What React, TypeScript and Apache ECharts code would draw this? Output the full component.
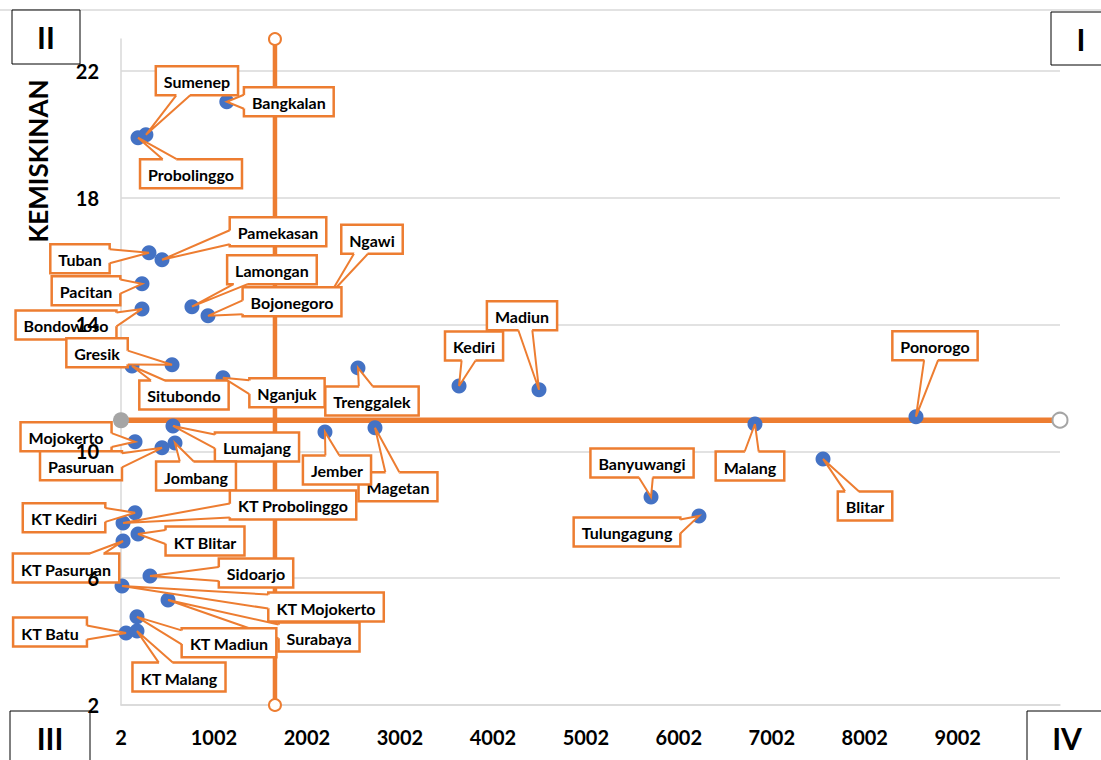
import React, { useEffect, useRef } from "react";
import * as echarts from "echarts";

// ---- data ----
const regionNames = [
  "Sumenep", "Bangkalan", "Probolinggo", "Ngawi", "Lamongan", "Bojonegoro", "Pamekasan",
  "Tuban", "Pacitan", "Bondowoso", "Gresik", "Situbondo", "Trenggalek", "Nganjuk",
  "Kediri", "Madiun", "Ponorogo", "Mojokerto", "Pasuruan", "Lumajang", "Jombang",
  "Magetan", "Jember", "Banyuwangi", "Malang", "Blitar", "Tulungagung",
  "KT Kediri", "KT Probolinggo", "KT Blitar", "KT Pasuruan", "Sidoarjo", "KT Mojokerto",
  "Surabaya", "KT Madiun", "KT Batu", "KT Malang",
];
const xValues = [
  270, 1140, 185, 2250, 765, 938, 443,
  303, 228, 228, 551, 120, 2551, 1099,
  3638, 4498, 8553, 153, 443, 561, 583,
  2734, 2196, 5703, 6821, 7553, 6219,
  153, 24, 185, 24, 314, 13,
  508, 174, 56, 174,
];
const yValues = [
  19.98, 21.02, 19.89, 14.95, 14.56, 14.27, 16.04,
  16.26, 15.28, 14.49, 12.73, 12.69, 12.63, 12.32,
  12.06, 11.94, 11.09, 10.30, 10.11, 10.80, 10.26,
  10.74, 10.61, 8.56, 10.86, 9.76, 7.96,
  8.06, 7.74, 7.39, 7.17, 6.07, 5.75,
  5.31, 4.78, 4.27, 4.33,
];
const xTickLabels = ["2", "1002", "2002", "3002", "4002", "5002", "6002", "7002", "8002", "9002"];
const yTickLabels = ["2", "6", "10", "14", "18", "22"];
const vLineX = 1658;
const vLineY = [2, 23];
const hLineY = 10.98;
const hLineX = [2, 10102];
const quadrantLabels = ["I", "II", "III", "IV"];
const yAxisTitle = "KEMISKINAN";

// ---- layout: label box centre offsets (pixels, from the point) ----
const labelOffsets: Record<string, [number, number]> = {
  "Sumenep": [51, -54], "Bangkalan": [62, 0], "Probolinggo": [53, 36], "Lamongan": [80, -37],
  "Bojonegoro": [84, -14], "Pamekasan": [116, -28], "Ngawi": [42, -55], "Tuban": [-69, 6],
  "Pacitan": [-56, 7], "Bondowoso": [-76, 16], "Gresik": [-75, -12], "Situbondo": [52, 29],
  "Trenggalek": [14, 33], "Nganjuk": [64, 15], "Kediri": [15, -40], "Madiun": [-17, -74],
  "Ponorogo": [19, -71], "Mojokerto": [-69, -5], "Pasuruan": [-81, 18], "Lumajang": [84, 21],
  "Jombang": [21, 33], "Magetan": [23, 59], "Jember": [12, 38], "Banyuwangi": [-9, -34],
  "Malang": [-5, 42], "Blitar": [42, 47], "Tulungagung": [-72, 16], "KT Kediri": [-71, 5],
  "KT Probolinggo": [170, -18], "KT Blitar": [67, 7], "KT Pasuruan": [-57, 27],
  "Sidoarjo": [106, -3], "KT Mojokerto": [204, 21], "Surabaya": [151, 37],
  "KT Madiun": [92, 26], "KT Batu": [-76, -1], "KT Malang": [42, 46],
};

const ORANGE = "#ED7D31";
const BLUE = "#4472C4";
const GRID = "#D9D9D9";
const FONT = "Lato, 'Open Sans', sans-serif";
const LABEL_FONT = `bold 16px ${FONT}`;
const PAD_X = 8;
const BOX_H = 29;
const HALF_BASE = 7;

function quadBox(label: string, x: number, y: number, w: number, h: number) {
  return {
    type: "group",
    z: 5,
    children: [
      { type: "rect", shape: { x, y, width: w, height: h }, style: { fill: "#fff", stroke: "#000", lineWidth: 1 } },
      {
        type: "text",
        x: x + w / 2,
        y: y + 27,
        style: { text: label, font: `bold 30px ${FONT}`, fill: "#000", align: "center", verticalAlign: "middle" },
      },
    ],
  };
}

function clamp(v: number, a: number, b: number) {
  return Math.max(a, Math.min(b, v));
}

export default function App() {
  const ref = useRef<HTMLDivElement>(null);
  useEffect(() => {
    if (!ref.current) return;
    const cv = document.createElement("canvas").getContext("2d")!;
    cv.font = LABEL_FONT;
    const textWidths = regionNames.map((n) => cv.measureText(n).width);

    const chart = echarts.init(ref.current, null, { renderer: "svg" });
    const points = regionNames.map((n, i) => [xValues[i], yValues[i]]);
    const yCommon = { type: "value", min: 2, max: 23, interval: 4 };

    const renderCallout = (params: any, api: any) => {
      const i = params.dataIndex;
      const name = regionNames[i];
      const p = api.coord([api.value(0), api.value(1)]);
      const off = labelOffsets[name] || [0, 0];
      const w = textWidths[i] + 2 * PAD_X;
      const h = BOX_H;
      const cx = p[0] + off[0];
      const cy = p[1] + off[1];
      const x0 = cx - w / 2;
      const y0 = cy - h / 2;
      const vx = p[0] - cx;
      const vy = p[1] - cy;
      let b1: number[];
      let b2: number[];
      let f1: number[];
      let f2: number[];
      if (Math.abs(vx) / (w / 2) > Math.abs(vy) / (h / 2)) {
        const sx = vx > 0 ? x0 + w : x0;
        const inset = vx > 0 ? -3 : 3;
        const by = clamp(cy + (vy / Math.abs(vx)) * (w / 2), y0 + HALF_BASE + 2, y0 + h - HALF_BASE - 2);
        b1 = [sx, by - HALF_BASE];
        b2 = [sx, by + HALF_BASE];
        f1 = [sx + inset, by - HALF_BASE + 1];
        f2 = [sx + inset, by + HALF_BASE - 1];
      } else {
        const sy = vy > 0 ? y0 + h : y0;
        const inset = vy > 0 ? -3 : 3;
        const bx = clamp(cx + (vx / Math.abs(vy)) * (h / 2), x0 + HALF_BASE + 2, x0 + w - HALF_BASE - 2);
        b1 = [bx - HALF_BASE, sy];
        b2 = [bx + HALF_BASE, sy];
        f1 = [bx - HALF_BASE + 1, sy + inset];
        f2 = [bx + HALF_BASE - 1, sy + inset];
      }
      return {
        type: "group",
        children: [
          {
            type: "rect",
            shape: { x: x0, y: y0, width: w, height: h },
            style: { fill: "#fff", stroke: ORANGE, lineWidth: 2.5 },
          },
          {
            type: "polygon",
            shape: { points: [f1, b1, p, b2, f2] },
            style: { fill: "#fff", stroke: null },
          },
          {
            type: "polyline",
            shape: { points: [b1, p, b2] },
            style: { fill: null, stroke: ORANGE, lineWidth: 2 },
          },
          {
            type: "text",
            x: cx,
            y: cy + 1,
            style: { text: name, font: LABEL_FONT, fill: "#000", align: "center", verticalAlign: "middle" },
          },
        ],
      };
    };

    chart.setOption({
      animation: false,
      backgroundColor: "#fff",
      grid: { left: 121, right: 41, top: 39, bottom: 55, containLabel: false },
      xAxis: {
        type: "value",
        min: 2,
        max: 10102,
        interval: 1000,
        axisLine: { show: true, lineStyle: { color: GRID, width: 1.5 } },
        axisTick: { show: false },
        splitLine: { show: false },
        axisLabel: {
          margin: 22,
          color: "#000",
          fontWeight: "bold",
          fontSize: 20,
          fontFamily: FONT,
          showMaxLabel: false,
          formatter: (v: number) => (xTickLabels.includes(String(v)) ? String(v) : ""),
        },
      },
      yAxis: [
        {
          ...yCommon,
          axisLine: { show: true, lineStyle: { color: GRID, width: 1.5 } },
          axisTick: { show: false },
          axisLabel: { show: false },
          splitLine: { show: true, showMaxLine: false, lineStyle: { color: GRID, width: 1.5 } },
        },
        {
          ...yCommon,
          position: "left",
          z: 10,
          axisLine: { show: false },
          axisTick: { show: false },
          splitLine: { show: false },
          axisLabel: {
            margin: 22,
            color: "#000",
            fontWeight: "bold",
            fontSize: 20,
            fontFamily: FONT,
            showMaxLabel: false,
            formatter: (v: number) => (yTickLabels.includes(String(v)) ? String(v) : ""),
          },
        },
      ],
      graphic: [
        { type: "line", z: 0, shape: { x1: 0, y1: 10, x2: 1101, y2: 10 }, style: { stroke: GRID, lineWidth: 1.5 } },
        {
          type: "text",
          x: 38,
          y: 161,
          rotation: Math.PI / 2,
          style: { text: yAxisTitle, font: `bold 26px ${FONT}`, fill: "#000", align: "center", verticalAlign: "middle" },
        },
        quadBox(quadrantLabels[1], 12, 10, 68, 54),
        quadBox(quadrantLabels[0], 1051, 12, 60, 53),
        quadBox(quadrantLabels[2], 10, 711, 80, 60),
        quadBox(quadrantLabels[3], 1027, 711, 80, 60),
      ],
      series: [
        {
          type: "line",
          z: 2,
          yAxisIndex: 0,
          data: [{ value: [vLineX, vLineY[0]] }, { value: [vLineX, vLineY[1]] }],
          symbol: "emptyCircle",
          symbolSize: 12,
          lineStyle: { color: ORANGE, width: 4.5 },
          itemStyle: { color: ORANGE, borderWidth: 1.5 },
          silent: true,
        },
        {
          type: "line",
          z: 2,
          yAxisIndex: 0,
          data: [
            { value: [hLineX[0], hLineY], symbol: "circle", symbolSize: 16, itemStyle: { color: "#A5A5A5" } },
            { value: [hLineX[1], hLineY], symbol: "emptyCircle", symbolSize: 15, itemStyle: { color: "#A5A5A5", borderWidth: 2 } },
          ],
          lineStyle: { color: ORANGE, width: 5.5 },
          silent: true,
        },
        {
          type: "scatter",
          z: 3,
          yAxisIndex: 0,
          symbolSize: 15,
          itemStyle: { color: BLUE, opacity: 1 },
          data: points,
          silent: true,
        },
        {
          type: "custom",
          z: 4,
          yAxisIndex: 0,
          coordinateSystem: "cartesian2d",
          clip: false,
          silent: true,
          data: points,
          renderItem: renderCallout,
        },
      ],
    });
    return () => chart.dispose();
  }, []);
  return (
    <div
      ref={ref}
      style={{ position: "fixed", left: 0, top: 0, width: 1101, height: 760, background: "#fff" }}
    />
  );
}
